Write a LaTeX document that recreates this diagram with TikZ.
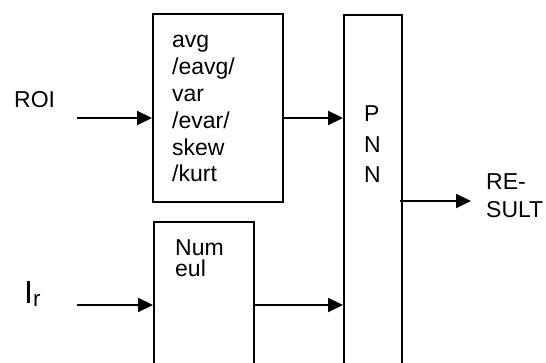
\documentclass[tikz,border=0pt]{standalone}
\usepackage{fontspec}
\setmainfont{Liberation Sans}
\usetikzlibrary{arrows.meta}
\begin{document}
\begin{tikzpicture}[x=1pt,y=-1pt,
  blk/.style={draw,line width=1.8pt,rectangle,inner sep=0pt},
  lbl/.style={inner sep=0pt,anchor=base west,align=left},
  arr/.style={line width=2.2pt,-{Triangle[length=15pt,width=14pt]}}]
\useasboundingbox (0,0) rectangle (546,363);
\clip (0,0) rectangle (546,363);
\fill[white] (0,0) rectangle (546,363);
% boxes
\node[blk,minimum width=130pt,minimum height=188pt,anchor=north west] (feat) at (152,13) {};
\node[blk,minimum width=58pt,minimum height=380pt,anchor=north west] (pnn) at (343,14) {};
\node[blk,minimum width=100pt,minimum height=170pt,anchor=north west] (num) at (153,221) {};
% texts (base anchor = last line)
\node[lbl,font=\fontsize{23}{26.8}\selectfont] (ft) at (172,182) {avg\\/eavg/\\var\\/evar/\\skew\\/kurt};
\node[lbl,font=\fontsize{23}{30.5}\selectfont] (pt) at (364,183) {P\\N\\N};
\node[lbl,font=\fontsize{23}{21}\selectfont] (nt) at (175,277) {Num\\eul};
\node[lbl,font=\fontsize{23}{28}\selectfont] (roi) at (14,108) {ROI};
\node[lbl,font=\fontsize{23}{28}\selectfont] (res) at (486,218) {RE-\\SULT};
\node[lbl,font=\fontsize{32}{32}\selectfont] (ir) at (24,303) {I\textsubscript{r}};
% connector ends
\coordinate (roiS) at (77,118);
\coordinate (irS) at (77,305);
\coordinate (resE) at (471,201);
\draw[arr] (roiS) -- (roiS -| feat.west);
\draw[arr] (feat.east |- roiS) -- (pnn.west |- roiS);
\draw[arr] (irS) -- (irS -| num.west);
\draw[arr] (num.east |- irS) -- (pnn.west |- irS);
\draw[arr] ([xshift=-3pt]pnn.east |- resE) -- (resE);
\end{tikzpicture}
\end{document}
